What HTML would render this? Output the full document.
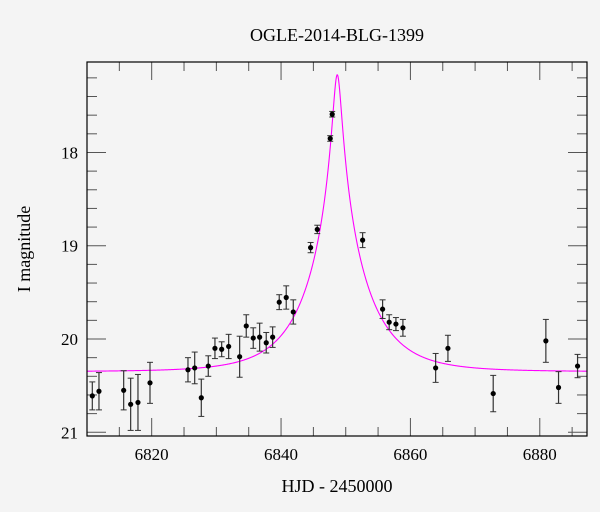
<!DOCTYPE html>
<html><head><meta charset="utf-8"><style>
body{margin:0;background:#f4f4f4;}
svg{display:block;font-family:"Liberation Serif",serif;}
</style></head><body>
<svg id="chart" width="600" height="512" viewBox="0 0 600 512">
<rect width="600" height="512" fill="#f4f4f4"/>
<text x="337" y="41" text-anchor="middle" font-size="18" fill="#000">OGLE-2014-BLG-1399</text>
<text x="337" y="492" text-anchor="middle" font-size="18" fill="#000">HJD - 2450000</text>
<text transform="translate(30,249) rotate(-90)" text-anchor="middle" font-size="18" fill="#000">I magnitude</text>
<g id="ticks"></g>
<g id="model"></g>
<g id="points"></g>
<rect x="87" y="62" width="500" height="374" fill="none" stroke="#000" stroke-width="1.2"/>
</svg>
<script>
const hjd=[6810.82,6811.85,6815.67,6816.75,6817.88,6819.74,6825.61,6826.65,6827.67,6828.75,6829.78,6830.82,6831.9,6833.6,6834.62,6835.7,6836.69,6837.71,6838.7,6839.72,6840.8,6841.89,6844.57,6845.6,6847.6,6847.91,6852.61,6855.7,6856.72,6857.76,6858.84,6863.9,6865.8,6872.8,6880.94,6882.9,6885.84];
const mag=[20.61,20.56,20.55,20.70,20.68,20.47,20.33,20.31,20.63,20.29,20.10,20.11,20.08,20.19,19.86,19.99,19.98,20.04,19.98,19.605,19.555,19.71,19.02,18.825,17.85,17.59,18.94,19.68,19.82,19.84,19.88,20.31,20.10,20.585,20.02,20.52,20.29];
const magErr=[0.15,0.20,0.21,0.28,0.30,0.22,0.13,0.17,0.20,0.11,0.11,0.08,0.13,0.22,0.12,0.11,0.15,0.11,0.11,0.08,0.125,0.13,0.055,0.045,0.03,0.03,0.08,0.10,0.08,0.07,0.09,0.155,0.14,0.195,0.23,0.17,0.125];
const xTicks=[6820,6840,6860,6880];
const yTicks=[18,19,20,21];
const modelT0=[6848.69];
const modelTE=[8];
const modelU0=[0.078];
const modelFs=[1.5];
const modelIbase=[20.35];

const X0=87,X1=587,Y0=62,Y1=436;
const xMin=6810,xMax=6887.3,yMin=17.03,yMax=21.04;
const sx=v=>X0+(v-xMin)/(xMax-xMin)*(X1-X0);
const sy=v=>Y0+(v-yMin)/(yMax-yMin)*(Y1-Y0);
const NS='http://www.w3.org/2000/svg';
function mk(tag,attrs,parent){const e=document.createElementNS(NS,tag);for(const k in attrs)e.setAttribute(k,attrs[k]);parent.appendChild(e);return e;}
const tg=document.getElementById('ticks');
for(let v=6810;v<=xMax;v+=5){
  const x=sx(v);const major=(v%20===0);const L=major?18:9;
  let t=mk('line',{x1:x,x2:x,y1:Y1,y2:Y1-L,stroke:'#555','stroke-width':1},tg);
  
  
  t=mk('line',{x1:x,x2:x,y1:Y0,y2:Y0+L,stroke:'#555','stroke-width':1},tg);
  
  
}
xTicks.forEach(v=>{
  const t=mk('text',{x:sx(v),y:460,'text-anchor':'middle','font-size':'17'},tg);
  t.textContent=v;
  
  
});
for(let i=0;i<=20;i++){
  const v=17+i*0.2; if(v<yMin-1e-6||v>yMax) continue;
  const y=sy(v);const major=(i%5===0);const L=major?19:10;
  let t=mk('line',{x1:X0,x2:X0+L,y1:y,y2:y,stroke:'#555','stroke-width':1},tg);
  
  
  t=mk('line',{x1:X1,x2:X1-L,y1:y,y2:y,stroke:'#555','stroke-width':1},tg);
  
  
}
yTicks.forEach(v=>{
  const t=mk('text',{x:78,y:sy(v)+6,'text-anchor':'end','font-size':'17'},tg);
  t.textContent=v;
  
  
});
function amp(u){return (u*u+2)/(u*Math.sqrt(u*u+4));}
function modelMag(t){
  const tau=(t-modelT0[0])/modelTE[0];
  const u=Math.sqrt(modelU0[0]*modelU0[0]+tau*tau);
  return modelIbase[0]-2.5*Math.log10(modelFs[0]*(amp(u)-1)+1);
}
let d='';
for(let px=X0;px<=X1;px+=0.5){
  const t=xMin+(px-X0)/(X1-X0)*(xMax-xMin);
  d+=(d?'L':'M')+px.toFixed(2)+','+sy(modelMag(t)).toFixed(2);
}
const mg=document.getElementById('model');
const path=mk('path',{d:d,fill:'none',stroke:'#ff00ff','stroke-width':1.1},mg);


const pg=document.getElementById('points');
hjd.forEach((t,i)=>{
  const x=sx(t),y=sy(mag[i]),y1=sy(mag[i]-magErr[i]),y2=sy(mag[i]+magErr[i]);
  const g=mk('g',{},pg);
  
  
  mk('line',{x1:x,x2:x,y1:y1,y2:y2,stroke:'#333','stroke-width':1.2},g);
  mk('line',{x1:x-3,x2:x+3,y1:y1,y2:y1,stroke:'#333','stroke-width':1},g);
  mk('line',{x1:x-3,x2:x+3,y1:y2,y2:y2,stroke:'#333','stroke-width':1},g);
  mk('circle',{cx:x,cy:y,r:2.6,fill:'#000'},g);
});
</script>
</body></html>
